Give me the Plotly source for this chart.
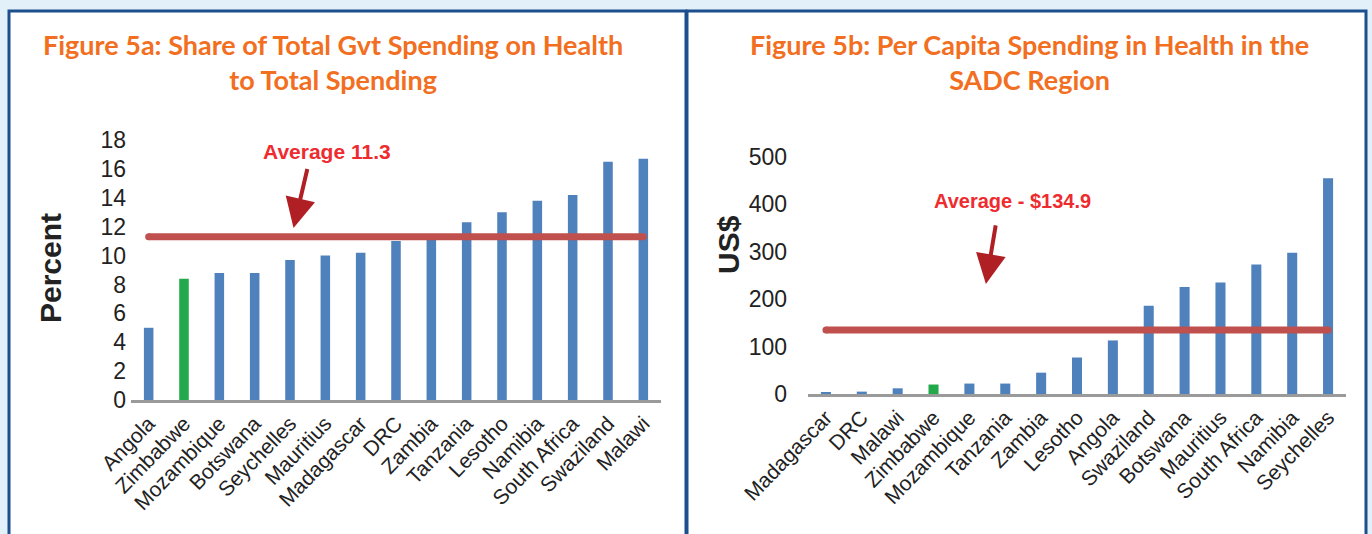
import plotly.graph_objects as go

# Figure 5a: share of total government spending on health (%)
share_countries = ["Angola", "Zimbabwe", "Mozambique", "Botswana", "Seychelles", "Mauritius",
                   "Madagascar", "DRC", "Zambia", "Tanzania", "Lesotho", "Namibia",
                   "South Africa", "Swaziland", "Malawi"]
share_values = [5.0, 8.4, 8.8, 8.8, 9.7, 10.0, 10.2, 11.0, 11.2, 12.3, 13.0, 13.8, 14.2, 16.5, 16.7]
share_average = 11.3

# Figure 5b: per capita spending on health (US$)
percap_countries = ["Madagascar", "DRC", "Malawi", "Zimbabwe", "Mozambique", "Tanzania", "Zambia",
                    "Lesotho", "Angola", "Swaziland", "Botswana", "Mauritius", "South Africa",
                    "Namibia", "Seychelles"]
percap_values = [4, 5, 12, 20, 22, 22, 45, 77, 113, 186, 226, 235, 273, 298, 455]
percap_average = 134.9

highlight = "Zimbabwe"
BLUE = "#4f81bd"
GREEN = "#22a94b"
AVG_COLOR = "#c0504d"
ARROW = "#b01f24"
LABEL_RED = "#ee2b2f"
ORANGE = "#f26f21"
NAVY = "#1d4f8f"
W, H = 1372, 534


def px_x(p):
    return p / W


def px_y(p):
    return (H - p) / H


def bar_colors(countries):
    return [GREEN if c == highlight else BLUE for c in countries]


fig = go.Figure()

fig.add_trace(go.Bar(x=share_countries, y=share_values, marker=dict(color=bar_colors(share_countries), line=dict(width=0)),
                     width=0.27, xaxis="x", yaxis="y", showlegend=False))
fig.add_trace(go.Scatter(x=[share_countries[0], share_countries[-1]], y=[share_average] * 2, mode="lines+markers",
                         line=dict(color=AVG_COLOR, width=7), marker=dict(color=AVG_COLOR, size=7),
                         xaxis="x", yaxis="y", showlegend=False))

fig.add_trace(go.Bar(x=percap_countries, y=percap_values, marker=dict(color=bar_colors(percap_countries), line=dict(width=0)),
                     width=0.28, xaxis="x2", yaxis="y2", showlegend=False))
fig.add_trace(go.Scatter(x=[percap_countries[0], percap_countries[-1]], y=[percap_average] * 2, mode="lines+markers",
                         line=dict(color=AVG_COLOR, width=7), marker=dict(color=AVG_COLOR, size=7),
                         xaxis="x2", yaxis="y2", showlegend=False))

tick_font = dict(family="Liberation Sans, Arial", size=23, color="#222")
cat_font = dict(family="Liberation Sans, Arial", size=21, color="#222")

xaxis_common = dict(type="category", tickangle=-46, tickfont=cat_font, showgrid=False, ticks="", automargin=False,
                    showline=True, linecolor="#9a9a9a", linewidth=3, zeroline=False, fixedrange=True)
yaxis_common = dict(showgrid=False, showline=False, zeroline=False, ticks="", tickfont=tick_font,
                    automargin=False, fixedrange=True)

panel_top = px_y(11)
shapes = [
    dict(type="rect", xref="paper", yref="paper", x0=px_x(9), x1=px_x(686), y0=-0.05, y1=panel_top,
         fillcolor="white", line=dict(color=NAVY, width=3), layer="below"),
    dict(type="rect", xref="paper", yref="paper", x0=px_x(687), x1=px_x(1366), y0=-0.05, y1=panel_top,
         fillcolor="white", line=dict(color=NAVY, width=3), layer="below"),
]

title_font = dict(family="Lato", size=27, color=ORANGE)
annotations = [
    dict(text="<b>Figure 5a: Share of Total Gvt Spending on Health<br>to Total Spending</b>", xref="paper", yref="paper",
         x=px_x(333), y=px_y(62), showarrow=False, font=title_font, align="center"),
    dict(text="<b>Figure 5b: Per Capita Spending in Health in the<br>SADC Region</b>", xref="paper", yref="paper",
         x=px_x(1029), y=px_y(62), showarrow=False, font=title_font, align="center"),
    dict(text="<b>Percent</b>", xref="paper", yref="paper", x=px_x(50), y=px_y(268), textangle=-90, showarrow=False,
         font=dict(family="Liberation Sans, Arial", size=30, color="#222")),
    dict(text="<b>US$</b>", xref="paper", yref="paper", x=px_x(728), y=px_y(245), textangle=-90, showarrow=False,
         font=dict(family="Liberation Sans, Arial", size=30, color="#222")),
    # average labels and arrows
    dict(text="<b>Average 11.3</b>", xref="x", yref="y", x=5.06, y=17.2, showarrow=False,
         font=dict(family="Liberation Sans, Arial", size=21, color=LABEL_RED)),
    dict(text="", xref="x", yref="y", x=4.1, y=11.9, ax=4.5, ay=16.1, axref="x", ayref="y",
         showarrow=True, arrowhead=2, arrowsize=1.5, arrowwidth=4, arrowcolor=ARROW),
    dict(text="<b>Average - $134.9</b>", xref="x2", yref="y2", x=5.19, y=407, showarrow=False,
         font=dict(family="Liberation Sans, Arial", size=20, color=LABEL_RED)),
    dict(text="", xref="x2", yref="y2", x=4.46, y=232, ax=4.74, ay=359, axref="x2", ayref="y2",
         showarrow=True, arrowhead=2, arrowsize=1.5, arrowwidth=4, arrowcolor=ARROW),
]
for ann in annotations:
    ann["xanchor"] = "center"
    ann["yanchor"] = "middle"

fig.update_layout(
    width=W, height=H,
    margin=dict(l=0, r=0, t=0, b=0),
    paper_bgcolor="#e1f0f9",
    plot_bgcolor="rgba(0,0,0,0)",
    bargap=0.7,
    xaxis=dict(xaxis_common, domain=[px_x(131), px_x(661)], range=[-0.5, len(share_countries) - 0.5], anchor="y"),
    yaxis=dict(yaxis_common, domain=[px_y(400), px_y(140)], range=[0, 18], dtick=2, anchor="x", ticklabelstandoff=4),
    xaxis2=dict(xaxis_common, domain=[px_x(808), px_x(1346)], range=[-0.5, len(percap_countries) - 0.5], anchor="y2"),
    yaxis2=dict(yaxis_common, domain=[px_y(394), px_y(157)], range=[0, 500], dtick=100, anchor="x2", ticklabelstandoff=20),
    shapes=shapes,
    annotations=annotations,
)

fig.write_html("out.html", config={"displayModeBar": False}, post_script="document.body.style.margin='0';")
